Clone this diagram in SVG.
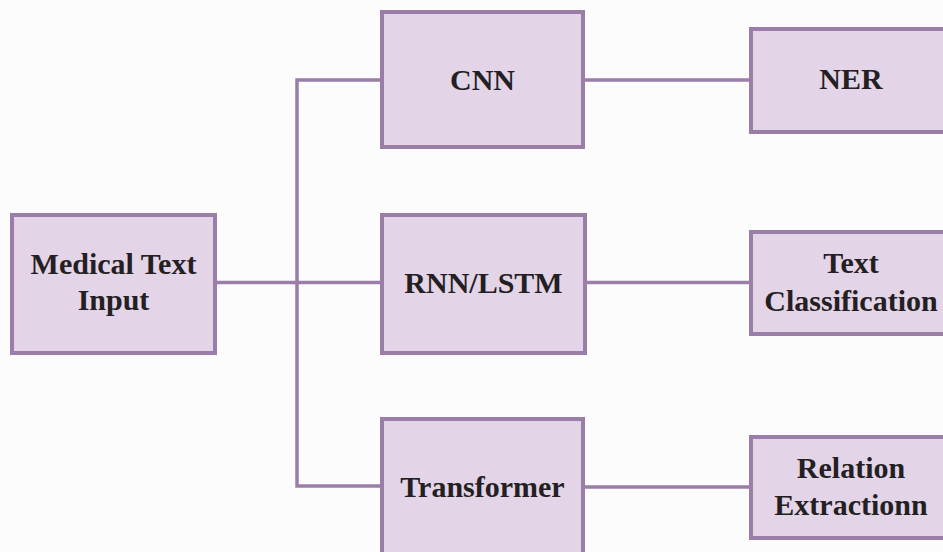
<svg xmlns="http://www.w3.org/2000/svg" width="943" height="552" viewBox="0 0 943 552">
<style>
.box{fill:#e3d4e7;stroke:#9a7ea8;stroke-width:4}
.lbl{font-family:"Liberation Serif","Times New Roman",serif;font-weight:bold;font-size:30px;fill:#231f22;text-anchor:middle}
.con{fill:none;stroke:#9a7ea8;stroke-width:3.5}
</style>
<rect width="943" height="552" fill="#fdfcfd"/>
<g id="connectors">
<path class="con" d="M215 282.5H382"/>
<path class="con" d="M382 80H297V486H382"/>
<path class="con" d="M583 80H751"/>
<path class="con" d="M585 282.5H751"/>
<path class="con" d="M583 487H751"/>
</g>
<g id="input">
<rect class="box" x="12" y="215" width="203" height="138"/>
<text class="lbl" x="113.5" y="274">Medical Text</text>
<text class="lbl" x="113.5" y="310">Input</text>
</g>
<g id="cnn">
<rect class="box" x="382" y="12" width="201" height="135"/>
<text class="lbl" x="482.5" y="90">CNN</text>
</g>
<g id="rnn">
<rect class="box" x="382" y="215" width="203" height="138"/>
<text class="lbl" x="483.5" y="293">RNN/LSTM</text>
</g>
<g id="transformer">
<rect class="box" x="382" y="419" width="201" height="150"/>
<text class="lbl" x="482.5" y="497">Transformer</text>
</g>
<g id="ner">
<rect class="box" x="751" y="29" width="200" height="103"/>
<text class="lbl" x="851" y="89">NER</text>
</g>
<g id="textclass">
<rect class="box" x="751" y="232" width="200" height="102"/>
<text class="lbl" x="851" y="273">Text</text>
<text class="lbl" x="851" y="311">Classification</text>
</g>
<g id="relation">
<rect class="box" x="751" y="437" width="200" height="101"/>
<text class="lbl" x="851" y="478">Relation</text>
<text class="lbl" x="851" y="515">Extractionn</text>
</g>
</svg>
